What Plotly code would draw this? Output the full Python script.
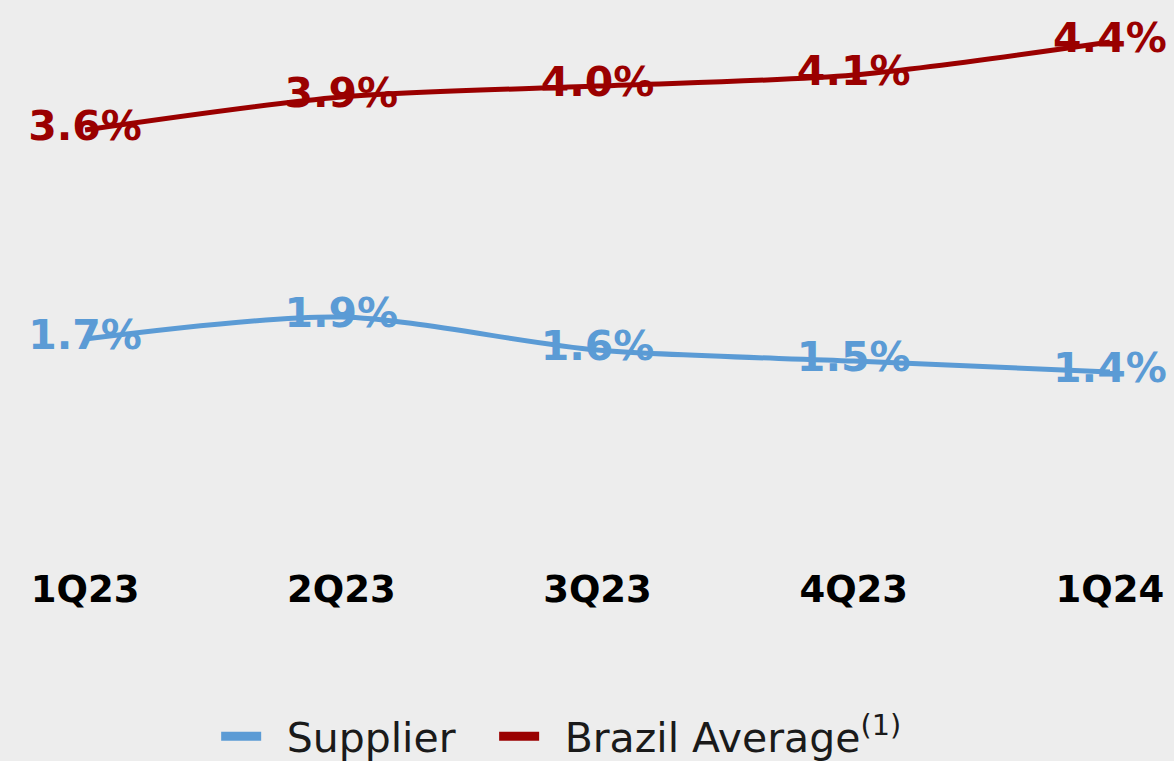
import plotly.graph_objects as go

# Quarterly rates (%)
quarters = ["1Q23", "2Q23", "3Q23", "4Q23", "1Q24"]
supplier = [1.7, 1.9, 1.6, 1.5, 1.4]
brazil_avg = [3.6, 3.9, 4.0, 4.1, 4.4]

BLUE = "#5b9bd5"
RED = "#9a0000"
BG = "#ededed"
FONT = "DejaVu Sans"

xpos = list(range(len(quarters)))

fig = go.Figure()

for vals, color in [(supplier, BLUE), (brazil_avg, RED)]:
    fig.add_trace(go.Scatter(
        x=xpos, y=vals,
        mode="lines+text",
        line=dict(color=color, width=5, shape="spline", smoothing=0.8),
        text=[f"{v:.1f}%" for v in vals],
        textposition="middle center",
        textfont=dict(family=FONT, size=41, color=color, weight="bold"),
        showlegend=False,
        hoverinfo="skip",
    ))

# Legend entries with thicker swatches
for name, color in [("\u2002Supplier \u2002", BLUE),
                    ("\u2002Brazil Average<sup>(1)</sup>", RED)]:
    fig.add_trace(go.Scatter(
        x=[None], y=[None], mode="lines", name=name,
        line=dict(color=color, width=9),
    ))

fig.update_layout(
    width=1174, height=761,
    paper_bgcolor=BG, plot_bgcolor=BG,
    margin=dict(l=0, r=0, t=0, b=211),
    font=dict(family=FONT),
    xaxis=dict(
        range=[-0.332, 4.25],
        tickmode="array", tickvals=xpos, ticktext=quarters,
        tickfont=dict(family=FONT, size=37, color="#000000", weight="bold"),
        showgrid=False, zeroline=False, showline=False, ticks="",
        ticklabelstandoff=14,
    ),
    yaxis=dict(
        range=[-0.218, 4.782],
        visible=False, showgrid=False, zeroline=False,
    ),
    legend=dict(
        orientation="h",
        xref="container", yref="container",
        x=0.478, xanchor="center",
        y=0.032, yanchor="middle",
        font=dict(family=FONT, size=41, color="#1a1a1a"),
        itemwidth=40,
        bgcolor="rgba(0,0,0,0)",
        traceorder="normal",
    ),
)

fig.write_html("out.html")
